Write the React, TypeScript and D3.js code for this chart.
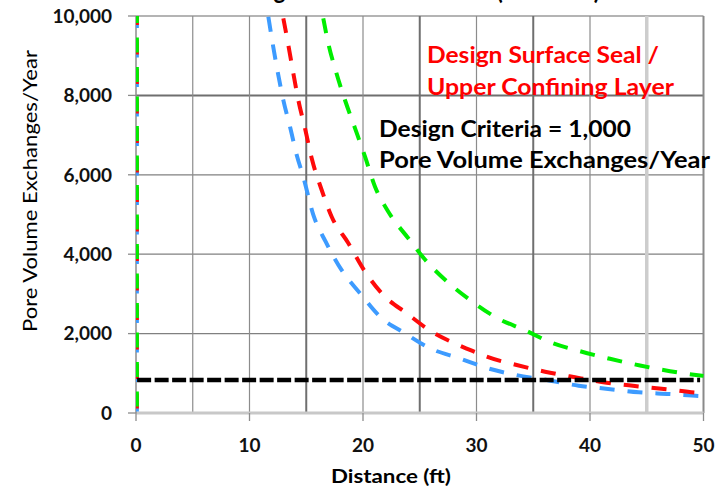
import React from "react";
import * as d3 from "d3";

// Distance from the well (ft) and pore volume exchanges per year for each case
const distanceBlue = [11.66, 12.04, 12.48, 12.98, 13.57, 14.16, 14.69, 15.66, 16.71, 18.12, 19.74, 21.5, 23.7, 25.9, 28.5, 31.0, 33.5, 36.2, 39.0, 41.6, 44.3, 47.0, 49.7, 50];
const pveBlue = [9980, 9310, 8600, 7880, 7210, 6500, 5995, 4960, 4315, 3600, 3015, 2426, 2008, 1630, 1378, 1126, 957, 831, 688, 605, 521, 479, 428, 424];

const distanceRed = [12.98, 13.42, 13.86, 14.3, 14.89, 15.48, 16.36, 17.24, 18.7, 20.18, 21.79, 23.85, 26.05, 28.4, 30.16, 30.9, 33.54, 36.04, 38.68, 41.47, 43.96, 46.76, 49.4, 50];
const pveRed = [9942, 9270, 8557, 7884, 7171, 6416, 5617, 4945, 4282, 3559, 2972, 2511, 2048, 1713, 1504, 1418, 1209, 1040, 899, 763, 680, 597, 511, 500];

const distanceGreen = [16.5, 16.94, 17.62, 18.41, 19.3, 20.18, 21.06, 22.23, 23.99, 25.46, 27.37, 29.58, 31.78, 34.27, 36.63, 39.12, 41.76, 44.41, 47.05, 49.7, 50];
const pveGreen = [9942, 9312, 8597, 7884, 7171, 6456, 5700, 5071, 4401, 3866, 3320, 2816, 2398, 2086, 1768, 1557, 1365, 1196, 1053, 945, 935];

// Each case also rises along the well itself, right at the origin
const wellDistance = [0.1, 0.1];
const wellPve = [10000, 0];

// Design criterion line (as plotted)
const criterionDistance = [0.1, 49.7];
const criterionPve = [830, 830];

const xTicks = [0, 10, 20, 30, 40, 50];
const xGrid = [5, 10, 15, 20, 25, 30, 35, 40, 45, 50];
const yTicks = [0, 2000, 4000, 6000, 8000, 10000];

const titleText = "Seal Design Limits vs. Distance (All Cases)";
const xTitle = "Distance (ft)";
const yTitle = "Pore Volume Exchanges/Year";
const sealLabel = ["Design Surface Seal /", "Upper Confining Layer"];
const criterionLabel = ["Design Criteria = 1,000", "Pore Volume Exchanges/Year"];

const W = 728;
const H = 491;
const FONT = "Lato, 'Open Sans', sans-serif";

const zip = (xs: number[], ys: number[]) => xs.map((x, i) => [x, ys[i]] as [number, number]);

const series = [
  { name: "blue", color: "#3d9bff", xs: distanceBlue, ys: pveBlue, wellOffset: 3 },
  { name: "red", color: "#ff0a0a", xs: distanceRed, ys: pveRed, wellOffset: 6 },
  { name: "green", color: "#00ee00", xs: distanceGreen, ys: pveGreen, wellOffset: 8 },
];

export default function App() {
  const x = d3.scaleLinear().domain([0, 50]).range([136, 703.5]);
  const y = d3.scaleLinear().domain([0, 10000]).range([413, 16]);
  const line = d3
    .line<[number, number]>()
    .x((d) => x(d[0]))
    .y((d) => y(d[1]))
    .curve(d3.curveMonotoneX);
  const straight = d3
    .line<[number, number]>()
    .x((d) => x(d[0]))
    .y((d) => y(d[1]));

  const vGridStyle = (v: number) => {
    if (v === 45) return { stroke: "#cdcdcd", w: 3.5 };
    if (v === 50) return { stroke: "#8a8a8a", w: 2 };
    if (v === 15 || v === 25 || v === 35) return { stroke: "#6f6f6f", w: 2 };
    return { stroke: "#8c8c8c", w: 1.2 };
  };
  const hGridStyle = (v: number) => {
    if (v === 10000) return { stroke: "#b4b4b4", w: 2 };
    if (v === 8000) return { stroke: "#6f6f6f", w: 2 };
    return { stroke: "#808080", w: 1.3 };
  };

  return (
    <svg
      width={W}
      height={H}
      style={{ position: "absolute", left: 0, top: 0, background: "#fff" }}
      fontFamily={FONT}
    >
      <defs>
        <clipPath id="plot">
          <rect x={x(0)} y={y(10000)} width={x(50) - x(0) + 2} height={y(0) - y(10000)} />
        </clipPath>
      </defs>

      {/* title, mostly above the page edge */}
      <text x={181} y={-1} fontSize={26} fontWeight={700} textLength={419} lengthAdjust="spacingAndGlyphs">
        {titleText}
      </text>

      {/* gridlines */}
      {yTicks
        .filter((v) => v > 0)
        .map((v) => {
          const s = hGridStyle(v);
          return <line key={"h" + v} x1={x(0)} x2={x(50)} y1={y(v)} y2={y(v)} stroke={s.stroke} strokeWidth={s.w} />;
        })}
      {xGrid.map((v) => {
        const s = vGridStyle(v);
        return <line key={"v" + v} x1={x(v)} x2={x(v)} y1={y(10000)} y2={y(0)} stroke={s.stroke} strokeWidth={s.w} />;
      })}

      {/* axes */}
      <line x1={x(0)} x2={x(50)} y1={y(0)} y2={y(0)} stroke="#c8c8c8" strokeWidth={3} />
      <line x1={x(0)} x2={x(0)} y1={y(10000)} y2={y(0)} stroke="#8c8c8c" strokeWidth={1.5} />
      {yTicks.map((v) => (
        <line key={"yt" + v} x1={x(0) - 8} x2={x(0)} y1={y(v)} y2={y(v)} stroke="#8c8c8c" strokeWidth={1.3} />
      ))}
      {xTicks.map((v) => (
        <line key={"xt" + v} x1={x(v)} x2={x(v)} y1={y(0)} y2={y(0) + 8} stroke="#8c8c8c" strokeWidth={1.3} />
      ))}

      {/* tick labels */}
      {yTicks.map((v) => (
        <text key={"yl" + v} x={112} y={y(v) + 6.8} textAnchor="end" fontSize={19} fontWeight={700} fill="#111">
          {d3.format(",")(v)}
        </text>
      ))}
      {xTicks.map((v) => (
        <text key={"xl" + v} x={x(v)} y={452} textAnchor="middle" fontSize={19} fontWeight={700} fill="#111">
          {v}
        </text>
      ))}

      {/* axis titles */}
      <text x={391} y={483} textAnchor="middle" fontSize={18} fontWeight={700} textLength={120} lengthAdjust="spacingAndGlyphs">
        {xTitle}
      </text>
      <text
        transform="translate(37,191) rotate(-90)"
        textAnchor="middle"
        fontSize={20}
        fontWeight={400}
        textLength={282}
        lengthAdjust="spacingAndGlyphs"
      >
        {yTitle}
      </text>

      {/* series */}
      <g clipPath="url(#plot)">
        {series.map((s) => (
          <path
            key={"w" + s.name}
            d={straight(zip(wellDistance, wellPve)) || ""}
            fill="none"
            stroke={s.color}
            strokeWidth={3.5}
            strokeDasharray="15,14.5"
            strokeDashoffset={s.wellOffset}
          />
        ))}
        {series.map((s) => (
          <path
            key={"c" + s.name}
            d={line(zip(s.xs, s.ys)) || ""}
            fill="none"
            stroke={s.color}
            strokeWidth={4}
            strokeDasharray="15,13"
          />
        ))}
        <path
          d={straight(zip(criterionDistance, criterionPve)) || ""}
          fill="none"
          stroke="#000"
          strokeWidth={4.5}
          strokeDasharray="14,3.5"
        />
      </g>

      {/* annotations */}
      <text x={427} y={63} fontSize={23} fontWeight={700} fill="#ff0000" textLength={232} lengthAdjust="spacingAndGlyphs">
        {sealLabel[0]}
      </text>
      <text x={427} y={95} fontSize={23} fontWeight={700} fill="#ff0000" textLength={247} lengthAdjust="spacingAndGlyphs">
        {sealLabel[1]}
      </text>
      <text x={379} y={137} fontSize={22} fontWeight={700} fill="#000" textLength={252} lengthAdjust="spacingAndGlyphs">
        {criterionLabel[0]}
      </text>
      <text x={379} y={168} fontSize={22} fontWeight={700} fill="#000" textLength={331} lengthAdjust="spacingAndGlyphs">
        {criterionLabel[1]}
      </text>
    </svg>
  );
}
